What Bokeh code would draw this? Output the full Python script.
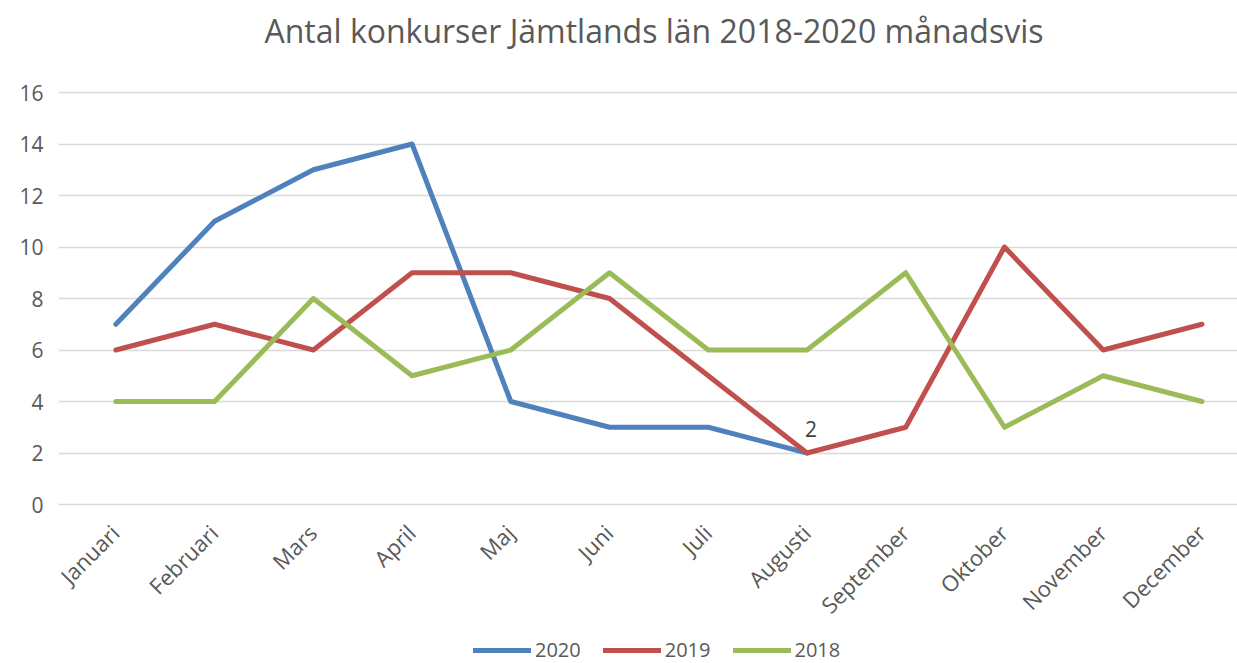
from math import pi
from bokeh.plotting import figure
from bokeh.models import FixedTicker, Legend, LegendItem, Range1d, Label
from bokeh.core.properties import value
from bokeh.embed import file_html
from bokeh.resources import INLINE

title_text = "Antal konkurser Jämtlands län 2018-2020 månadsvis"
months = ["Januari", "Februari", "Mars", "April", "Maj", "Juni", "Juli",
          "Augusti", "September", "Oktober", "November", "December"]
v2020 = [7, 11, 13, 14, 4, 3, 3, 2]
v2019 = [6, 7, 6, 9, 9, 8, 5, 2, 3, 10, 6, 7]
v2018 = [4, 4, 8, 5, 6, 9, 6, 6, 9, 3, 5, 4]
series_names = ["2020", "2019", "2018"]
y_ticks = [0, 2, 4, 6, 8, 10, 12, 14, 16]

colors = ["#4F81BD", "#C0504D", "#9BBB59"]
FONT = "Open Sans"
GREY = "#595959"

# layout constants (pixels): value axis 16 -> 0 spans y=92..504 of a 663 px canvas
PX_PER_UNIT = (504 - 92) / 16.0
Y_TOP = 16 + 92 / PX_PER_UNIT
Y_BOTTOM = -(663 - 504) / PX_PER_UNIT
TITLE_Y = 16 + (92 - 30) / PX_PER_UNIT
TITLE_X = 5.45
PX_PER_CAT = 1171 / 11.86
X_END = 11.36
X_START = -0.5 - 8 / PX_PER_CAT

# frame covers the whole canvas height so title, month labels and legend sit inside it
p = figure(width=1237, height=663,
           x_range=Range1d(X_START, X_END), y_range=Range1d(Y_BOTTOM, Y_TOP),
           x_axis_location=None,
           output_backend="svg", toolbar_location=None,
           min_border_left=58, min_border_right=0,
           min_border_top=0, min_border_bottom=0)
p.outline_line_color = None
p.background_fill_color = "white"
p.border_fill_color = "white"

p.add_layout(Label(x=TITLE_X, y=TITLE_Y, text=title_text,
                   text_align="center", text_baseline="middle",
                   text_font=FONT, text_font_size="32px", text_color=GREY))

p.xgrid.visible = False
p.ygrid.grid_line_color = "#D9D9D9"
p.ygrid.grid_line_width = 1.5

p.yaxis.ticker = FixedTicker(ticks=y_ticks)
p.yaxis.axis_line_color = None
p.yaxis.major_tick_line_color = None
p.yaxis.minor_tick_line_color = None
p.yaxis.major_label_text_font = FONT
p.yaxis.major_label_text_font_size = "21px"
p.yaxis.major_label_text_color = GREY
p.yaxis.major_label_standoff = 9

# category (month) labels, rotated 45 degrees under the zero line
p.text(x=list(range(len(months))), y=[0] * len(months), text=months,
       angle=pi / 4, text_align="right", text_baseline="middle",
       x_offset=-1, y_offset=24,
       text_font=value(FONT), text_font_size="22px", text_color=GREY)

renderers = []
for vals, c in zip([v2020, v2019, v2018], colors):
    r = p.line(list(range(len(vals))), vals, line_width=5, line_color=c,
               line_cap="round", line_join="round")
    renderers.append(r)

# data label on last 2020 point
idx = len(v2020) - 1
p.text(x=[idx], y=[v2020[idx]], text=[str(v2020[idx])], y_offset=-16, x_offset=4,
       text_align="center", text_baseline="bottom",
       text_font=value(FONT), text_font_size="21px", text_color="#404040")

legend = Legend(items=[LegendItem(label=n, renderers=[r]) for n, r in zip(series_names, renderers)],
                orientation="horizontal", location=(415, 0),
                glyph_width=58, glyph_height=20, label_height=20,
                label_standoff=4, spacing=22, padding=0, margin=0,
                border_line_color=None, background_fill_alpha=0,
                label_text_font=FONT, label_text_font_size="20px",
                label_text_color=GREY)
p.add_layout(legend, "center")

open("out.html", "w").write(file_html(p, INLINE))
